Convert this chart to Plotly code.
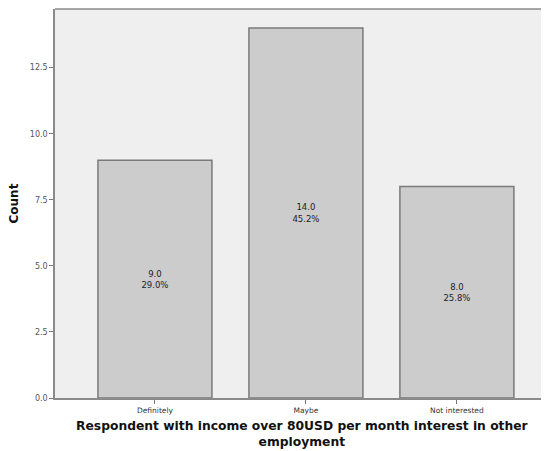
import plotly.graph_objects as go

categories = ["Definitely", "Maybe", "Not interested"]
counts = [9, 14, 8]
percents = [29.0, 45.2, 25.8]
y_ticks = [0.0, 2.5, 5.0, 7.5, 10.0, 12.5]

labels = [f"{c:.1f}<br>{p:.1f}%" for c, p in zip(counts, percents)]

fig = go.Figure()
fig.add_trace(go.Bar(
    x=list(range(len(categories))),
    y=counts,
    width=0.755,
    marker=dict(color="#cccccc", line=dict(color="#7a7a7a", width=1.5)),
    text=labels,
    textposition="inside",
    insidetextanchor="middle",
    textfont=dict(family="DejaVu Sans", size=8.5, color="#222222"),
    constraintext="none",
    hoverinfo="skip",
))

fig.update_layout(
    width=541, height=443,
    margin=dict(l=47, r=0, t=1, b=53),
    paper_bgcolor="white",
    plot_bgcolor="#efefef",
    showlegend=False,
    font=dict(family="DejaVu Sans", color="#222222"),
    xaxis=dict(
        range=[-0.662, 2.61],
        tickmode="array",
        tickvals=list(range(len(categories))),
        ticktext=categories,
        tickfont=dict(size=7.5, color="#333333"),
        ticks="outside", ticklen=4, tickcolor="#777777", tickwidth=1,
        showline=True, linecolor="#8a8a8a", linewidth=1.5,
        showgrid=False, zeroline=False,
        automargin=False,
    ),
    yaxis=dict(
        range=[0, 14.72],
        tickmode="array",
        tickvals=y_ticks,
        ticktext=[f"{v:.1f}" for v in y_ticks],
        tickfont=dict(size=8, color="#555555"),
        ticks="outside", ticklen=4, tickcolor="#777777", tickwidth=1,
        showline=True, linecolor="#8a8a8a", linewidth=1.5,
        showgrid=False, zeroline=False,
        automargin=False,
    ),
    shapes=[dict(type="line", xref="paper", yref="paper", x0=0, x1=1, y0=1, y1=1,
                 line=dict(color="#8a8a8a", width=1.5))],
    annotations=[
        dict(text="<b>Count</b>", xref="paper", yref="paper", x=-42 / 494, y=0.5,
             xanchor="center", yanchor="middle", textangle=-90, showarrow=False,
             font=dict(size=12, color="#111111")),
        dict(text="<b>Respondent with income over 80USD per month interest in other<br>employment</b>",
             xref="paper", yref="paper", x=0.5, y=-19 / 389, xanchor="center", yanchor="top",
             showarrow=False, font=dict(size=12.3, color="#111111")),
    ],
)

fig.write_html("out.html")
